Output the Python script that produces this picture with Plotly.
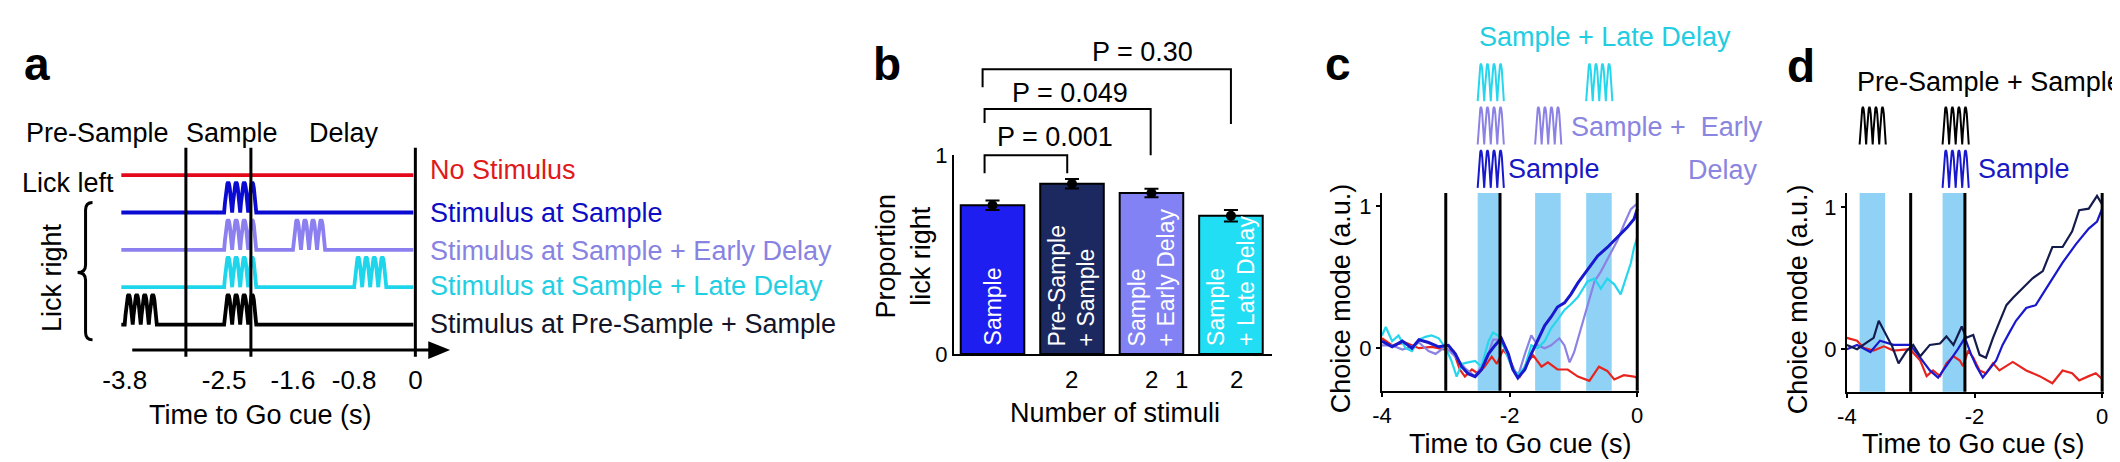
import plotly.graph_objects as go

W, H = 2120, 462
FONT = "Liberation Sans, Arial, Helvetica, sans-serif"


def X(p):
    return p / W


def Y(p):
    return 1 - p / H


# ---------------- Panel a : schematic ----------------
A_CONDITIONS = ["No Stimulus", "Stimulus at Sample", "Stimulus at Sample + Early Delay",
                "Stimulus at Sample + Late Delay", "Stimulus at Pre-Sample + Sample"]
A_LINE_COLORS = ["#e3081a", "#0a0ad2", "#8c80f0", "#1ed6ec", "#000000"]
A_TEXT_COLORS = ["#e01a1a", "#0c0cc4", "#8883e2", "#22cfe2", "#141428"]
A_PULSE_ONSETS = [[], [-2.5], [-2.5, -1.6], [-2.5, -0.8], [-3.8, -2.5]]
A_EPOCH_NAMES = ["Pre-Sample", "Sample", "Delay"]
EPOCH_LINES = [-3.0, -2.15, 0.0]
A_TICK_VALS = [-3.8, -2.5, -1.6, -0.8, 0.0]
A_TICK_TEXT = ["-3.8", "-2.5", "-1.6", "-0.8", "0"]
A_PULSE_DUR = 0.42
A_LINE_START, A_LINE_END = -3.844, -0.026

# one laser "hump" glyph (normalised), repeated 4x per pulse train
HUMP_X = [0.0, 0.1, 0.2, 0.3, 0.4, 0.5, 0.6, 0.7, 0.8, 0.9, 1.0]
HUMP_Y = [0.0, 0.31, 0.59, 0.81, 0.95, 1.0, 0.95, 0.81, 0.59, 0.31, 0.0]
N_HUMPS = 4

# ---------------- Panel b : bars ----------------
B_LABELS = ["Sample", "Pre-Sample<br>+ Sample", "Sample<br>+ Early Delay", "Sample<br>+ Late Delay"]
B_VALUES = [0.748, 0.857, 0.81, 0.695]
B_SEM = [0.024, 0.024, 0.022, 0.029]
B_COLORS = ["#1e1ef0", "#1c2860", "#8282f4", "#22def4"]
B_NUM_X = [1, 2, 2.375, 3.075]
B_NUM_TEXT = ["2", "2", "1", "2"]
B_P_TEXT = ["P = 0.001", "P = 0.049", "P = 0.30"]
B_BRACKET_X = [(-0.1, 0.94), (-0.1, 1.99), (-0.125, 3.0)]
B_BRACKET_Y = [(0.91, 1.0, 0.91), (1.162, 1.233, 1.0), (1.343, 1.433, 1.157)]

# ---------------- Panel c : choice mode ----------------
C_BANDS = [(-2.5, -2.15), (-1.6, -1.2), (-0.8, -0.4)]
C_RED_T = [-4.0, -3.84, -3.63, -3.42, -3.22, -3.01, -2.88, -2.78, -2.7, -2.59, -2.49, -2.39, -2.28, -2.2,
           -2.1, -2.02, -1.92, -1.84, -1.74, -1.63, -1.5, -1.4, -1.25, -1.09, -0.93, -0.75, -0.6, -0.47,
           -0.36, -0.21, -0.05, 0.0]
C_RED_V = [0.07, 0.02, 0.04, 0.0, 0.01, -0.01, -0.02, -0.15, -0.2, -0.15, -0.18, -0.13, -0.06, -0.11,
           -0.01, -0.06, -0.16, -0.2, -0.11, -0.05, -0.13, -0.1, -0.15, -0.15, -0.2, -0.23, -0.13, -0.16,
           -0.22, -0.19, -0.2, -0.21]
C_BLUE_T = [-4.0, -3.84, -3.68, -3.53, -3.42, -3.27, -3.11, -2.96, -2.85, -2.75, -2.65, -2.54, -2.44,
            -2.33, -2.23, -2.13, -2.02, -1.95, -1.87, -1.76, -1.66, -1.56, -1.45, -1.35, -1.25, -1.14,
            -1.04, -0.93, -0.83, -0.73, -0.62, -0.47, -0.31, -0.16, -0.05, 0.0]
C_BLUE_V = [0.05, 0.01, 0.05, 0.0, 0.06, 0.04, 0.01, 0.02, -0.04, -0.13, -0.18, -0.2, -0.15, -0.04,
            0.02, 0.07, -0.04, -0.15, -0.21, -0.15, -0.04, 0.05, 0.16, 0.22, 0.29, 0.32, 0.38, 0.46,
            0.52, 0.58, 0.65, 0.71, 0.78, 0.85, 0.91, 0.98]
C_PURPLE_T = [-4.0, -3.84, -3.68, -3.53, -3.42, -3.27, -3.16, -3.01, -2.85, -2.7, -2.54, -2.33, -2.26,
              -2.13, -2.0, -1.87, -1.76, -1.66, -1.56, -1.45, -1.35, -1.22, -1.14, -1.06, -0.99, -0.88,
              -0.78, -0.67, -0.57, -0.41, -0.31, -0.21, -0.1, 0.0]
C_PURPLE_V = [0.02, 0.02, -0.01, 0.01, 0.04, -0.02, -0.04, 0.01, -0.06, -0.14, -0.2, -0.04, 0.06,
              0.06, -0.09, -0.2, -0.04, 0.09, 0.02, 0.0, 0.02, 0.07, 0.02, -0.1, -0.03, 0.14,
              0.29, 0.47, 0.54, 0.67, 0.76, 0.87, 0.98, 1.02]
C_CYAN_T = [-4.0, -3.94, -3.84, -3.74, -3.63, -3.53, -3.42, -3.32, -3.22, -3.11, -3.0, -2.91, -2.83,
            -2.75, -2.65, -2.54, -2.44, -2.33, -2.26, -2.18, -2.08, -1.97, -1.87, -1.76, -1.66, -1.56,
            -1.45, -1.35, -1.25, -1.14, -1.04, -0.93, -0.78, -0.67, -0.57, -0.47, -0.36, -0.26, -0.18,
            -0.1, -0.05, 0.0]
C_CYAN_V = [0.09, 0.15, 0.05, 0.09, 0.0, -0.02, 0.06, 0.08, 0.09, 0.07, 0.0, -0.09, -0.2,
            -0.11, -0.1, -0.09, -0.13, 0.05, 0.11, 0.09, 0.0, -0.13, -0.19, -0.13, 0.02, 0.0,
            0.05, 0.14, 0.2, 0.27, 0.31, 0.36, 0.47, 0.49, 0.42, 0.49, 0.45, 0.38, 0.49,
            0.6, 0.71, 0.78]

# ---------------- Panel d : choice mode ----------------
D_BANDS = [(-3.8, -3.4), (-2.5, -2.15)]
D_RED_T = [-4.0, -3.84, -3.74, -3.58, -3.42, -3.27, -3.01, -2.85, -2.75, -2.65, -2.54, -2.44, -2.33,
           -2.23, -2.18, -2.1, -2.02, -1.92, -1.82, -1.71, -1.61, -1.4, -1.19, -0.98, -0.78, -0.62,
           -0.47, -0.36, -0.21, -0.1, 0.0]
D_RED_V = [0.08, 0.06, 0.01, -0.01, 0.02, -0.01, 0.0, -0.08, -0.19, -0.15, -0.19, -0.1, -0.05,
           -0.08, -0.12, -0.01, -0.06, -0.15, -0.17, -0.1, -0.15, -0.09, -0.15, -0.19, -0.24, -0.15,
           -0.17, -0.22, -0.19, -0.17, -0.21]
D_BLUE_T = [-4.0, -3.84, -3.63, -3.48, -3.27, -3.01, -2.85, -2.7, -2.57, -2.49, -2.39, -2.26, -2.15,
            -2.05, -1.97, -1.87, -1.66, -1.56, -1.45, -1.35, -1.19, -1.04, -0.93, -0.78, -0.62, -0.41,
            -0.21, -0.08, 0.0]
D_BLUE_V = [0.0, 0.03, -0.02, 0.06, 0.03, 0.03, -0.06, -0.15, -0.2, -0.15, -0.08, 0.0, 0.08,
            -0.04, -0.12, -0.2, -0.08, 0.03, 0.12, 0.2, 0.29, 0.31, 0.39, 0.5, 0.61, 0.74,
            0.85, 0.9, 0.99]
D_NAVY_T = [-4.0, -3.84, -3.68, -3.58, -3.5, -3.4, -3.29, -3.19, -3.06, -2.96, -2.85, -2.7, -2.54,
            -2.44, -2.33, -2.2, -2.13, -2.02, -1.92, -1.82, -1.71, -1.61, -1.5, -1.4, -1.25, -1.09,
            -0.93, -0.78, -0.62, -0.47, -0.36, -0.21, -0.08, 0.0]
D_NAVY_V = [0.03, 0.0, 0.05, 0.08, 0.2, 0.11, 0.02, -0.1, -0.01, 0.03, -0.05, 0.03, 0.04,
            0.09, 0.03, 0.16, 0.08, 0.1, -0.04, -0.06, 0.08, 0.19, 0.31, 0.36, 0.43, 0.5,
            0.55, 0.72, 0.72, 0.83, 0.98, 0.99, 1.08, 1.02]

RED = "rgb(232,36,30)"
BLUE = "rgb(24,24,205)"
PURPLE = "rgb(140,130,228)"
CYAN = "rgb(38,214,236)"
NAVY = "rgb(20,28,78)"
BAND = "rgb(143,210,245)"


def pulse_train(onset, dur):
    xs, ys = [], []
    for k in range(N_HUMPS):
        for i, (hx, hy) in enumerate(zip(HUMP_X, HUMP_Y)):
            if k > 0 and i == 0:
                continue
            xs.append(onset + dur * (k + hx) / N_HUMPS)
            ys.append(hy)
    return xs, ys


fig = go.Figure()
annotations = []
shapes = []


def txt(s, x, y, size=27, color="black", xanchor="center", yanchor="middle", angle=0,
        bold=False, align="center", xref="paper", yref="paper"):
    if xref == "paper":
        x = X(x)
    if yref == "paper":
        y = Y(y)
    annotations.append(dict(text=("<b>%s</b>" % s) if bold else s, x=x, y=y, xref=xref, yref=yref,
                            showarrow=False, xanchor=xanchor, yanchor=yanchor, textangle=angle,
                            align=align, font=dict(family=FONT, size=size, color=color)))


# ---- panel a traces
ROW_PX0, ROW_STEP = 164.0, 39.5      # pixel of row 0 and row spacing
A_PULSE_H = 0.81
for row, (onsets, col) in enumerate(zip(A_PULSE_ONSETS, A_LINE_COLORS)):
    xs, ys = [A_LINE_START], [row]
    for on in sorted(onsets):
        px_, py_ = pulse_train(on, A_PULSE_DUR)
        xs += px_
        ys += [row - A_PULSE_H * v for v in py_]
    xs.append(A_LINE_END)
    ys.append(row)
    fig.add_trace(go.Scatter(x=xs, y=ys, mode="lines", line=dict(color=col, width=3.8),
                             xaxis="x", yaxis="y", hoverinfo="skip", showlegend=False))

arrow_row = (349 - ROW_PX0) / ROW_STEP
arrow_start = (115 - 400) / 77.0
arrow_tip = (435 - 400) / 77.0
head_len = 22 / 77.0
head_half = 9.5 / ROW_STEP
shapes.append(dict(type="line", xref="x", yref="y", x0=arrow_start, x1=arrow_tip - head_len + 0.02,
                   y0=arrow_row, y1=arrow_row, line=dict(color="black", width=3)))
fig.add_trace(go.Scatter(x=[arrow_tip - head_len, arrow_tip, arrow_tip - head_len],
                         y=[arrow_row - head_half, arrow_row, arrow_row + head_half],
                         fill="toself", fillcolor="black", mode="lines", line=dict(width=0, color="black"),
                         xaxis="x", yaxis="y", hoverinfo="skip", showlegend=False))
vline_top = (135 - ROW_PX0) / ROW_STEP
vline_bot = (356 - ROW_PX0) / ROW_STEP
for t in EPOCH_LINES:
    shapes.append(dict(type="line", xref="x", yref="y", x0=t, x1=t, y0=vline_top, y1=vline_bot,
                       line=dict(color="black", width=3)))

# brace
bp = [(75, 193), (68, 193), (68, 201), (68, 259), (68, 267), (60, 267), (68, 267), (68, 275),
      (68, 330), (68, 338), (75, 338)]
P = ["%.5f,%.5f" % (X(a), Y(b)) for a, b in bp]
brace = "M %s Q %s %s L %s Q %s %s Q %s %s L %s Q %s %s" % tuple(P)
shapes.append(dict(type="path", xref="paper", yref="paper", path=brace, line=dict(color="black", width=3)))

txt("a", 4, 47, size=46, bold=True, xanchor="left")
for name, x0 in zip(A_EPOCH_NAMES, [6, 167, 291]):
    txt(name, x0, 119, xanchor="left")
txt("Lick left", 2, 172, xanchor="left")
txt("Lick right", 35, 272, angle=-90)
for name, col, yy in zip(A_CONDITIONS, A_TEXT_COLORS, [159, 204, 244, 281, 321]):
    txt(name, 413, yy, color=col, xanchor="left")
txt("Time to Go cue (s)", 244, 418)

# ---- panel b
fig.add_trace(go.Bar(x=list(range(4)), y=B_VALUES, width=0.8, xaxis="x2", yaxis="y2",
                     marker=dict(color=B_COLORS, line=dict(color="black", width=2)),
                     hoverinfo="skip", showlegend=False))
fig.add_trace(go.Scatter(x=list(range(4)), y=B_VALUES, mode="markers", xaxis="x2", yaxis="y2",
                         marker=dict(color="black", size=10),
                         error_y=dict(type="data", array=B_SEM, color="black", thickness=2, width=7),
                         hoverinfo="skip", showlegend=False))
for i, lab in enumerate(B_LABELS):
    txt(lab, i, 0.03, size=23, color="white", angle=-90, yanchor="bottom", align="left",
        xref="x2", yref="y2")


def bpx(v):
    return 981 + 80 * v


def bpy(v):
    return 353 - 210 * v


for (xl, xr), (yl, yt, yr) in zip(B_BRACKET_X, B_BRACKET_Y):
    path = "M %.5f,%.5f L %.5f,%.5f L %.5f,%.5f L %.5f,%.5f" % (
        X(bpx(xl)), Y(bpy(yl)), X(bpx(xl)), Y(bpy(yt)), X(bpx(xr)), Y(bpy(yt)), X(bpx(xr)), Y(bpy(yr)))
    shapes.append(dict(type="path", xref="paper", yref="paper", path=path,
                       line=dict(color="black", width=2)))
for s, (cx, cy) in zip(B_P_TEXT, [(1044, 124), (1059, 77), (1132, 34)]):
    txt(s, cx, cy)
for xv, s in zip(B_NUM_X, B_NUM_TEXT):
    txt(s, bpx(xv), 380, size=24)
txt("b", 859, 47, size=46, bold=True, xanchor="left")
txt("Proportion<br>lick right", 891, 250, angle=-90)
txt("Number of stimuli", 1104, 416)

# ---- panels c & d
for xa, ya, bands in [("x3", "y3", C_BANDS), ("x4", "y4", D_BANDS)]:
    for b0, b1 in bands:
        shapes.append(dict(type="rect", xref=xa, yref=ya + " domain", x0=b0, x1=b1, y0=0, y1=1,
                           fillcolor=BAND, line=dict(width=0), layer="below"))
    for t in EPOCH_LINES:
        shapes.append(dict(type="line", xref=xa, yref=ya + " domain", x0=t, x1=t, y0=0, y1=1,
                           line=dict(color="black", width=3)))

for tt, vv, col, wd in [(C_RED_T, C_RED_V, RED, 2.2), (C_PURPLE_T, C_PURPLE_V, PURPLE, 2.2),
                        (C_CYAN_T, C_CYAN_V, CYAN, 2.2), (C_BLUE_T, C_BLUE_V, BLUE, 3)]:
    fig.add_trace(go.Scatter(x=tt, y=vv, mode="lines", line=dict(color=col, width=wd),
                             xaxis="x3", yaxis="y3", hoverinfo="skip", showlegend=False))
for tt, vv, col, wd in [(D_RED_T, D_RED_V, RED, 2.2), (D_BLUE_T, D_BLUE_V, BLUE, 2.2),
                        (D_NAVY_T, D_NAVY_V, NAVY, 2.2)]:
    fig.add_trace(go.Scatter(x=tt, y=vv, mode="lines", line=dict(color=col, width=wd),
                             xaxis="x4", yaxis="y4", hoverinfo="skip", showlegend=False))

# stimulus glyphs above c and d
GLYPH_DUR = 0.41
GLYPH_H = 0.87
C_GLYPHS = [([-2.5], BLUE, 0.1), ([-2.5, -1.6], PURPLE, 1.1), ([-2.5, -0.8], CYAN, 2.1)]
D_GLYPHS = [([-2.5], BLUE, 0.1), ([-3.8, -2.5], "black", 1.1)]
for xa, ya, glyphs in [("x3", "y5", C_GLYPHS), ("x4", "y6", D_GLYPHS)]:
    for onsets, col, base in glyphs:
        xs, ys = [], []
        for on in onsets:
            gx, gy = pulse_train(on, GLYPH_DUR)
            xs += gx + [None]
            ys += [base + GLYPH_H * v for v in gy] + [None]
        fig.add_trace(go.Scatter(x=xs, y=ys, mode="lines", line=dict(color=col, width=2),
                                 xaxis=xa, yaxis=ya, hoverinfo="skip", showlegend=False))

txt("c", 1314, 47, size=46, bold=True, xanchor="left")
txt("Sample + Late Delay", 1469, 18, color="#22cde2", xanchor="left")
txt("Sample +  Early", 1561, 113, color="#8a85e0", xanchor="left")
txt("Delay", 1754, 159, color="#8a85e0", xanchor="right")
txt("Sample", 1498, 157, color="#1818c4", xanchor="left")
txt("Choice mode (a.u.)", 1332, 294, angle=-90)
txt("Time to Go cue (s)", 1512, 448)

txt("d", 1779, 49, size=46, bold=True, xanchor="left")
txt("Pre-Sample + Sample", 1849, 66, xanchor="left")
txt("Sample", 1971, 158, color="#1818c4", xanchor="left")
txt("Choice mode (a.u.)", 1792, 295, angle=-90)
txt("Time to Go cue (s)", 1969, 448)

axis_common = dict(showgrid=False, zeroline=False, linecolor="black", tickcolor="black",
                   tickfont=dict(family=FONT, size=22, color="black"))

fig.update_layout(
    width=W, height=H, margin=dict(l=0, r=0, t=0, b=0),
    paper_bgcolor="white", plot_bgcolor="rgba(0,0,0,0)",
    font=dict(family=FONT, color="black"),
    showlegend=False,
    xaxis=dict(domain=[0, X(440)], range=[(0 - 400) / 77.0, (440 - 400) / 77.0], anchor="y",
               tickvals=A_TICK_VALS, ticktext=A_TICK_TEXT, ticks="", showline=False,
               showgrid=False, zeroline=False, tickfont=dict(family=FONT, size=26, color="black")),
    yaxis=dict(domain=[Y(362), Y(100)], range=[(362 - ROW_PX0) / ROW_STEP, (100 - ROW_PX0) / ROW_STEP],
               visible=False, anchor="x"),
    xaxis2=dict(domain=[X(942), X(1262)], range=[-0.4875, 3.5125], anchor="y2", showline=True,
                linewidth=2, showticklabels=False, ticks="", **axis_common),
    yaxis2=dict(domain=[Y(353), Y(143)], range=[0, 1], anchor="x2", showline=True, linewidth=2,
                tickvals=[0, 1], ticktext=["0", "1"], ticks="inside", ticklen=5, tickwidth=2,
                **axis_common),
    xaxis3=dict(domain=[X(1373), X(1632)], range=[-4, 0.031], anchor="y3", showline=True, linewidth=2,
                tickvals=[-4, -2, 0], ticktext=["-4", "-2", "0"], ticks="outside", ticklen=4,
                tickwidth=2, **axis_common),
    yaxis3=dict(domain=[Y(392), Y(183)], range=[-0.3, 1.093], anchor="x3", showline=True, linewidth=2,
                tickvals=[0, 1], ticktext=["0", "1"], ticks="outside", ticklen=4, tickwidth=2,
                **axis_common),
    yaxis5=dict(domain=[Y(182), Y(40)], range=[0, 3.1], anchor="x3", visible=False),
    xaxis4=dict(domain=[X(1841), X(2100)], range=[-4, 0.031], anchor="y4", showline=True, linewidth=2,
                tickvals=[-4, -2, 0], ticktext=["-4", "-2", "0"], ticks="outside", ticklen=4,
                tickwidth=2, **axis_common),
    yaxis4=dict(domain=[Y(393), Y(183)], range=[-0.3, 1.1], anchor="x4", showline=True, linewidth=2,
                tickvals=[0, 1], ticktext=["0", "1"], ticks="outside", ticklen=4, tickwidth=2,
                **axis_common),
    yaxis6=dict(domain=[Y(182), Y(40)], range=[0, 3.1], anchor="x4", visible=False),
    annotations=annotations,
    shapes=shapes,
)

fig.write_html("out.html")
